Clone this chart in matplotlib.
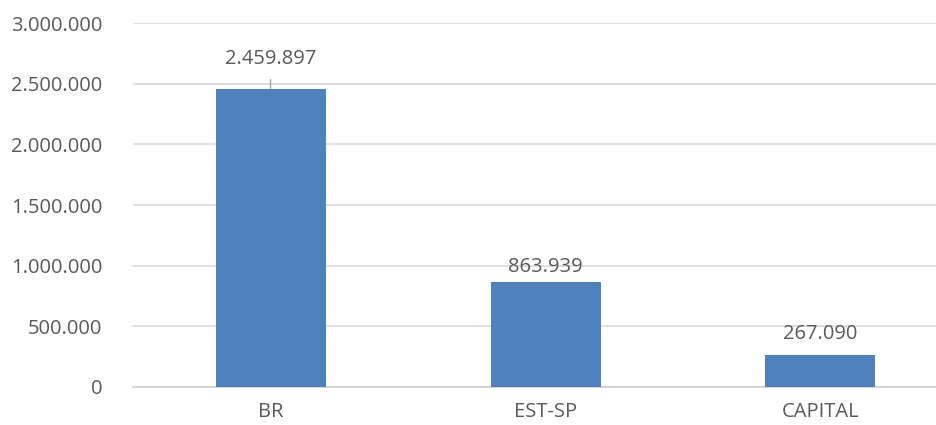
import matplotlib.pyplot as plt
from matplotlib.ticker import FuncFormatter

# ---- dados ---- #
categorias = ["BR", "EST-SP", "CAPITAL"]
valores = [2459897, 863939, 267090]
rotulos = ["2.459.897", "863.939", "267.090"]
yticks = [0, 500000, 1000000, 1500000, 2000000, 2500000, 3000000]

# ---- estilo ---- #
cor_barra = "#4f81bd"
cor_texto = "#595959"
plt.rcParams["font.family"] = ["Open Sans", "DejaVu Sans"]

fig = plt.figure(figsize=(9.36, 4.25), dpi=100)
ax = fig.add_axes([133 / 936, 38 / 425, 825 / 936, 364 / 425])

x = range(len(categorias))
ax.bar(x, valores, width=0.4, color=cor_barra, zorder=3)

ax.set_xlim(-0.5, len(categorias) - 0.5)
ax.set_ylim(0, 3000000)
ax.set_yticks(yticks)
ax.yaxis.set_major_formatter(FuncFormatter(lambda v, p: f"{int(v):,}".replace(",", ".")))
ax.set_xticks(list(x))
ax.set_xticklabels(categorias)

ax.grid(axis="y", color="#d9d9d9", linewidth=1.2, zorder=0)
for s in ["top", "right", "left"]:
    ax.spines[s].set_visible(False)
ax.spines["bottom"].set_color("#d0d0d0")
ax.spines["bottom"].set_linewidth(1.2)
ax.tick_params(axis="both", length=0, labelsize=14.5, colors=cor_texto)
ax.tick_params(axis="x", pad=11)
ax.tick_params(axis="y", pad=22)

# ---- rótulos de dados ---- #
deslocamento = [30, 15, 21]
for i, (v, r) in enumerate(zip(valores, rotulos)):
    seta = None
    if i == 0:
        seta = dict(arrowstyle="-", color="#a6a6a6", lw=1, shrinkA=6, shrinkB=0)
    ax.annotate(r, xy=(i, v), xytext=(0, deslocamento[i]), textcoords="offset pixels",
                ha="center", va="center", fontsize=14.5, color=cor_texto,
                arrowprops=seta, zorder=4)

plt.savefig("out.png", dpi=100)
